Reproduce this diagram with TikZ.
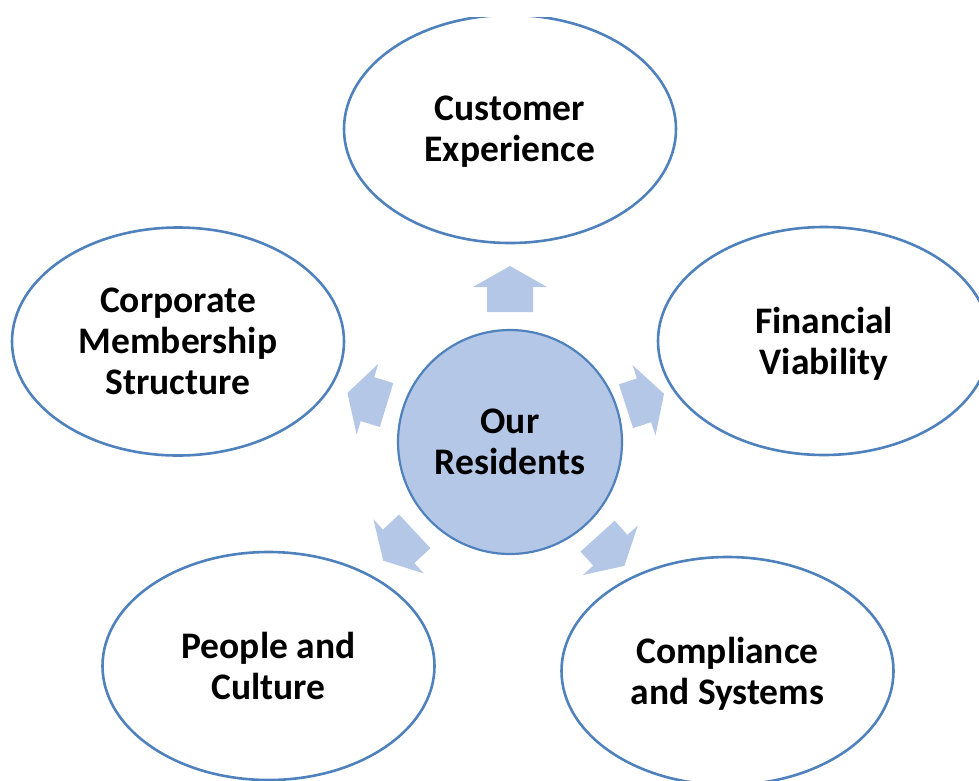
\documentclass[tikz,border=0pt]{standalone}
\usepackage{fontspec}
\setmainfont{Carlito}
\usetikzlibrary{shapes.geometric}
\definecolor{edgeblue}{HTML}{4F81BD}
\definecolor{fillblue}{HTML}{B4C7E7}
\tikzset{
  labeltext/.style={align=center, text depth=0pt,
    font=\bfseries\fontsize{37.5}{41}\selectfont},
  topic/.style={ellipse, draw=edgeblue, line width=2.6pt, fill=white,
    minimum width=332pt, minimum height=228pt, inner sep=0pt, labeltext},
  hub/.style={circle, draw=edgeblue, line width=2.2pt, fill=fillblue,
    minimum size=224pt, inner sep=0pt, labeltext},
  blockarrow/.style={fill=fillblue}
}
\newcommand\radarrow[4]{%
  \begin{scope}[shift={(#1,#2)}, rotate=#3]
    \fill[blockarrow] (-#4,-23) -- (#4-21,-23) -- (#4-21,-37) -- (#4,0)
      -- (#4-21,37) -- (#4-21,23) -- (-#4,23) -- cycle;
  \end{scope}}
\begin{document}
\begin{tikzpicture}[x=1pt, y=-1pt]
  \useasboundingbox (0,0) rectangle (979,780);
  \clip (0,17) rectangle (979,780);
  \node[hub] (res) at (510,442) {Our\\Residents};
  \node[topic] (cx) at (510,129) {Customer\\Experience};
  \node[topic] (fin) at (824,341) {Financial\\Viability};
  \node[topic] (comp) at (727.5,671) {Compliance\\and Systems};
  \node[topic] (ppl) at (268.5,666) {People and\\Culture};
  \node[topic] (corp) at (178,341.5) {Corporate\\Membership\\Structure};
  \radarrow{510}{289}{90}{23}
  \radarrow{645}{400}{18}{20}
  \radarrow{611}{551}{-48}{20}
  \radarrow{399}{546}{223}{21.5}
  \radarrow{367}{399}{163}{20.5}
\end{tikzpicture}
\end{document}
